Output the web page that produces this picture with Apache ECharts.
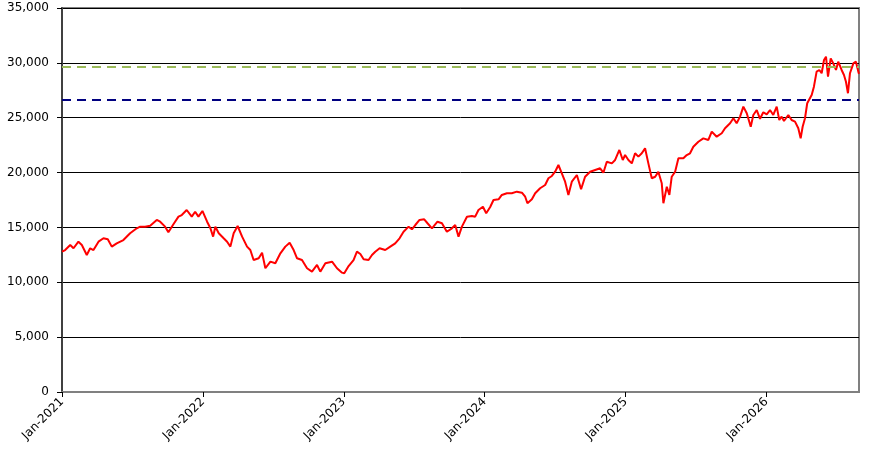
<!DOCTYPE html>
<html>
<head>
<meta charset="utf-8">
<script src="https://cdn.jsdelivr.net/npm/echarts@6/dist/echarts.min.js"></script>
<style>
html,body{margin:0;padding:0;background:#fff;}
#chart{width:883px;height:467px;}
</style>
</head>
<body>
<div id="chart"></div>
<script>
// x positions are months since Jan-2021
const months = [0.0,0.27,0.70,0.98,1.40,1.69,2.11,2.40,2.68,3.11,3.53,3.90,4.24,4.66,5.23,5.80,6.37,6.66,7.08,7.51,8.07,8.36,8.78,9.06,9.49,9.92,10.20,10.62,11.05,11.34,11.62,11.96,
12.07,12.36,12.64,12.87,13.06,13.35,13.77,14.06,14.34,14.62,14.96,15.34,15.76,16.04,16.32,16.75,17.04,17.32,17.75,18.17,18.60,19.02,19.39,19.73,20.02,20.44,20.87,21.29,21.72,22.00,22.43,23.00,23.42,23.85,
24.04,24.41,24.83,25.12,25.41,25.69,26.11,26.40,26.68,27.05,27.53,27.96,28.38,28.75,29.09,29.52,29.80,30.09,30.45,30.85,31.13,31.51,31.98,32.36,32.78,33.21,33.49,33.77,34.06,34.49,34.91,35.19,35.47,35.85,
36.13,36.47,36.75,37.18,37.46,37.89,38.31,38.74,39.17,39.45,39.64,40.02,40.30,40.72,41.15,41.43,41.72,42.00,42.28,42.57,42.85,43.13,43.42,43.85,44.21,44.55,44.98,45.41,45.83,46.11,46.40,46.83,47.11,47.47,47.76,47.96,
48.24,48.53,48.81,49.09,49.38,49.66,49.94,50.23,50.52,50.79,51.08,51.22,51.51,51.73,51.93,52.22,52.50,52.92,53.21,53.49,53.77,54.20,54.62,55.05,55.34,55.76,56.19,56.47,56.90,57.18,57.46,57.75,58.03,58.32,58.66,58.88,59.17,59.45,59.73,
60.02,60.30,60.58,60.87,61.09,61.29,61.49,61.86,62.14,62.43,62.71,62.91,63.08,63.28,63.47,63.85,64.04,64.27,64.50,64.70,64.90,65.07,65.24,65.47,65.69,65.92,66.11,66.40,66.60,66.77,66.94,67.11,67.40,67.62,67.82,67.88];
const values = [12790,12940,13400,13100,13700,13400,12490,13100,12940,13700,14010,13920,13250,13550,13850,14470,14920,15070,15070,15160,15680,15520,15070,14560,15290,15980,16130,16590,15980,16430,15980,16500,
16430,15520,14920,14160,15070,14470,14010,13700,13250,14470,15130,14160,13250,12940,12030,12190,12700,11280,11880,11730,12640,13250,13610,12940,12190,12030,11280,10970,11580,10970,11730,11880,11280,10880,
10820,11480,12030,12790,12580,12100,12030,12490,12790,13100,12940,13250,13550,14010,14610,15070,14830,15220,15680,15740,15380,14920,15520,15380,14610,14920,15220,14160,15070,15980,16040,15980,16590,16890,
16290,16860,17500,17560,17960,18110,18110,18260,18170,17800,17200,17560,18110,18570,18870,19480,19690,20080,20690,19930,19170,17960,19170,19780,18480,19620,20080,20240,20390,19990,20990,20840,21150,22060,21150,21600,
21150,20840,21760,21450,21760,22210,20840,19480,19620,20080,19020,17200,18710,17960,19620,20080,21300,21300,21600,21760,22360,22810,23120,22970,23730,23270,23580,24040,24490,24950,24490,25100,26010,25400,24180,25250,25700,24900,25500,
25300,25700,25250,26010,24790,25100,24700,25250,24790,24640,24040,23120,24180,24950,26320,27070,27830,29200,29350,29050,30260,30560,28740,30410,29950,29350,30110,29350,28890,28280,27230,29050,29950,30110,29200,29000];
const tickLabels = ['Jan-2021','Jan-2022','Jan-2023','Jan-2024','Jan-2025','Jan-2026'];
const greenLevel = 29650;
const blueLevel = 26650;
const xMaxMonths = 67.88;

const points = months.map((m, i) => [m, values[i]]);
const chart = echarts.init(document.getElementById('chart'), null, {renderer: 'canvas'});
const font = 'DejaVu Sans';
chart.setOption({
  animation: false,
  backgroundColor: '#fff',
  grid: {left: 62, top: 8, right: 24, bottom: 75, show: true, borderColor: '#808080', borderWidth: 2, backgroundColor: 'transparent'},
  xAxis: {
    type: 'value', min: 0, max: xMaxMonths, interval: 12,
    axisLine: {show: true, onZero: false, lineStyle: {color: '#808080', width: 2}},
    axisTick: {show: true, length: 5, lineStyle: {color: '#000', width: 1}},
    splitLine: {show: false},
    axisLabel: {
      rotate: 45, margin: 8, color: '#000', fontFamily: font, fontSize: 12,
      showMaxLabel: false,
      formatter: v => { const k = Math.round(v / 12); return Math.abs(v - k * 12) < 1e-6 && tickLabels[k] ? tickLabels[k] : ''; }
    }
  },
  yAxis: {
    type: 'value', min: 0, max: 35000, interval: 5000,
    axisLine: {show: true, lineStyle: {color: '#404040', width: 2}},
    axisTick: {show: true, length: 5, lineStyle: {color: '#000', width: 1}},
    splitLine: {show: true, lineStyle: {color: '#000', width: 1}},
    axisLabel: {margin: 13, color: '#000', fontFamily: font, fontSize: 12,
      formatter: v => v.toLocaleString('en-US')}
  },
  series: [{
    type: 'line', data: points, showSymbol: false, symbol: 'none',
    lineStyle: {color: '#ff0000', width: 2}, z: 3,
    markLine: {
      silent: true, symbol: 'none', label: {show: false}, animation: false,
      data: [
        {yAxis: greenLevel, lineStyle: {color: '#9bbb59', width: 2, type: [9, 6]}},
        {yAxis: blueLevel, lineStyle: {color: '#000080', width: 2, type: [9, 6]}}
      ]
    }
  }]
});
</script>
</body>
</html>
